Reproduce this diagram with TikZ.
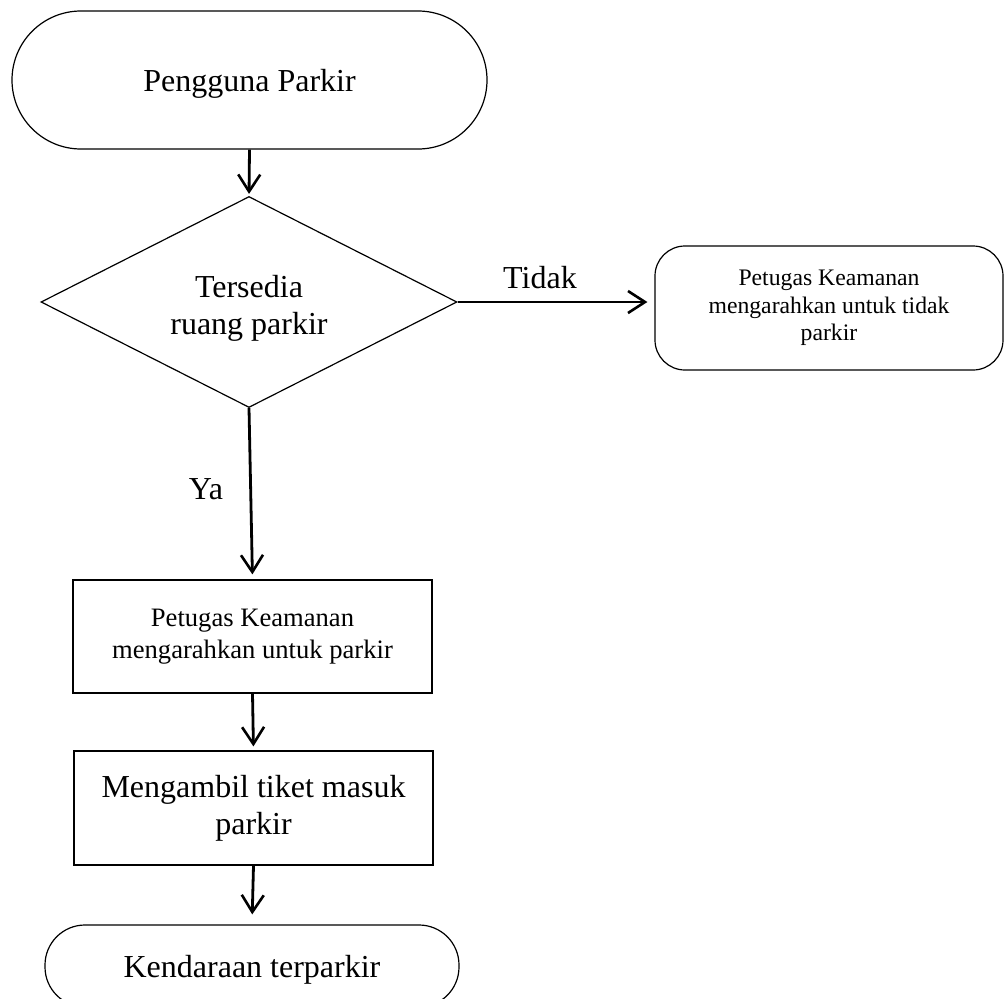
\documentclass[tikz,border=0pt]{standalone}
\usepackage{fontspec}
\setmainfont{Liberation Serif}
\usetikzlibrary{shapes.geometric,arrows.meta}
\begin{document}
\begin{tikzpicture}[x=1pt,y=-1pt,
  outline/.style={draw=black,line width=1.2pt},
  term/.style={outline,rectangle,inner sep=0pt,font=\fontsize{32}{37}\selectfont},
  procbox/.style={outline,rectangle,inner sep=0pt,align=center},
  flow/.style={draw=black,line width=2.8pt,-{Straight Barb[length=17pt,width=22pt,line width=2.6pt]}},
  lbl/.style={font=\fontsize{32}{37}\selectfont,anchor=base,inner sep=0pt}]
\path[use as bounding box,clip] (0,0) rectangle (1005,999);
\fill[white] (0,0) rectangle (1005,999);
% nodes
\node[term,minimum width=475pt,minimum height=138pt,rounded corners=69pt,text depth=0pt] (start) at (249.5,80) {Pengguna Parkir};
\node[outline,diamond,inner sep=0pt,minimum width=416pt,minimum height=211pt] (dia) at (249,302) {};
\node[align=center,inner sep=0pt,font=\fontsize{32}{37}\selectfont] (diatext) at (249,308) {Tersedia\\ruang parkir};
\node[procbox,minimum width=348pt,minimum height=124pt,rounded corners=30pt,font=\fontsize{23.7}{27.5}\selectfont] (no) at (829,308) {Petugas Keamanan\\mengarahkan untuk tidak\\parkir};
\node[procbox,minimum width=359pt,minimum height=113pt,font=\fontsize{26.6}{32}\selectfont] (act1) at (252.5,636.5) {Petugas Keamanan\\mengarahkan untuk parkir};
\node[procbox,minimum width=359pt,minimum height=114pt,font=\fontsize{32}{37}\selectfont] (act2) at (253.5,808) {Mengambil tiket masuk\\parkir};
\node[term,minimum width=414pt,minimum height=82pt,rounded corners=40pt,text depth=0pt] (stop) at (252,966) {Kendaraan terparkir};
% connectors
\draw[flow,shorten >=2pt] (start.south) -- (dia.north);
\draw[flow,shorten >=7pt] (dia.east) -- (dia.east -| no.west);
\draw[flow,shorten >=5pt] (dia.south) -- (act1.north);
\draw[flow,shorten >=4pt] (act1.south) -- (act2.north);
\draw[flow,shorten >=10pt] (act2.south) -- (stop.north);
% labels
\node[lbl] (tidak) at (540,288) {Tidak};
\node[lbl] (ya) at (206,499) {Ya};
\end{tikzpicture}
\end{document}
